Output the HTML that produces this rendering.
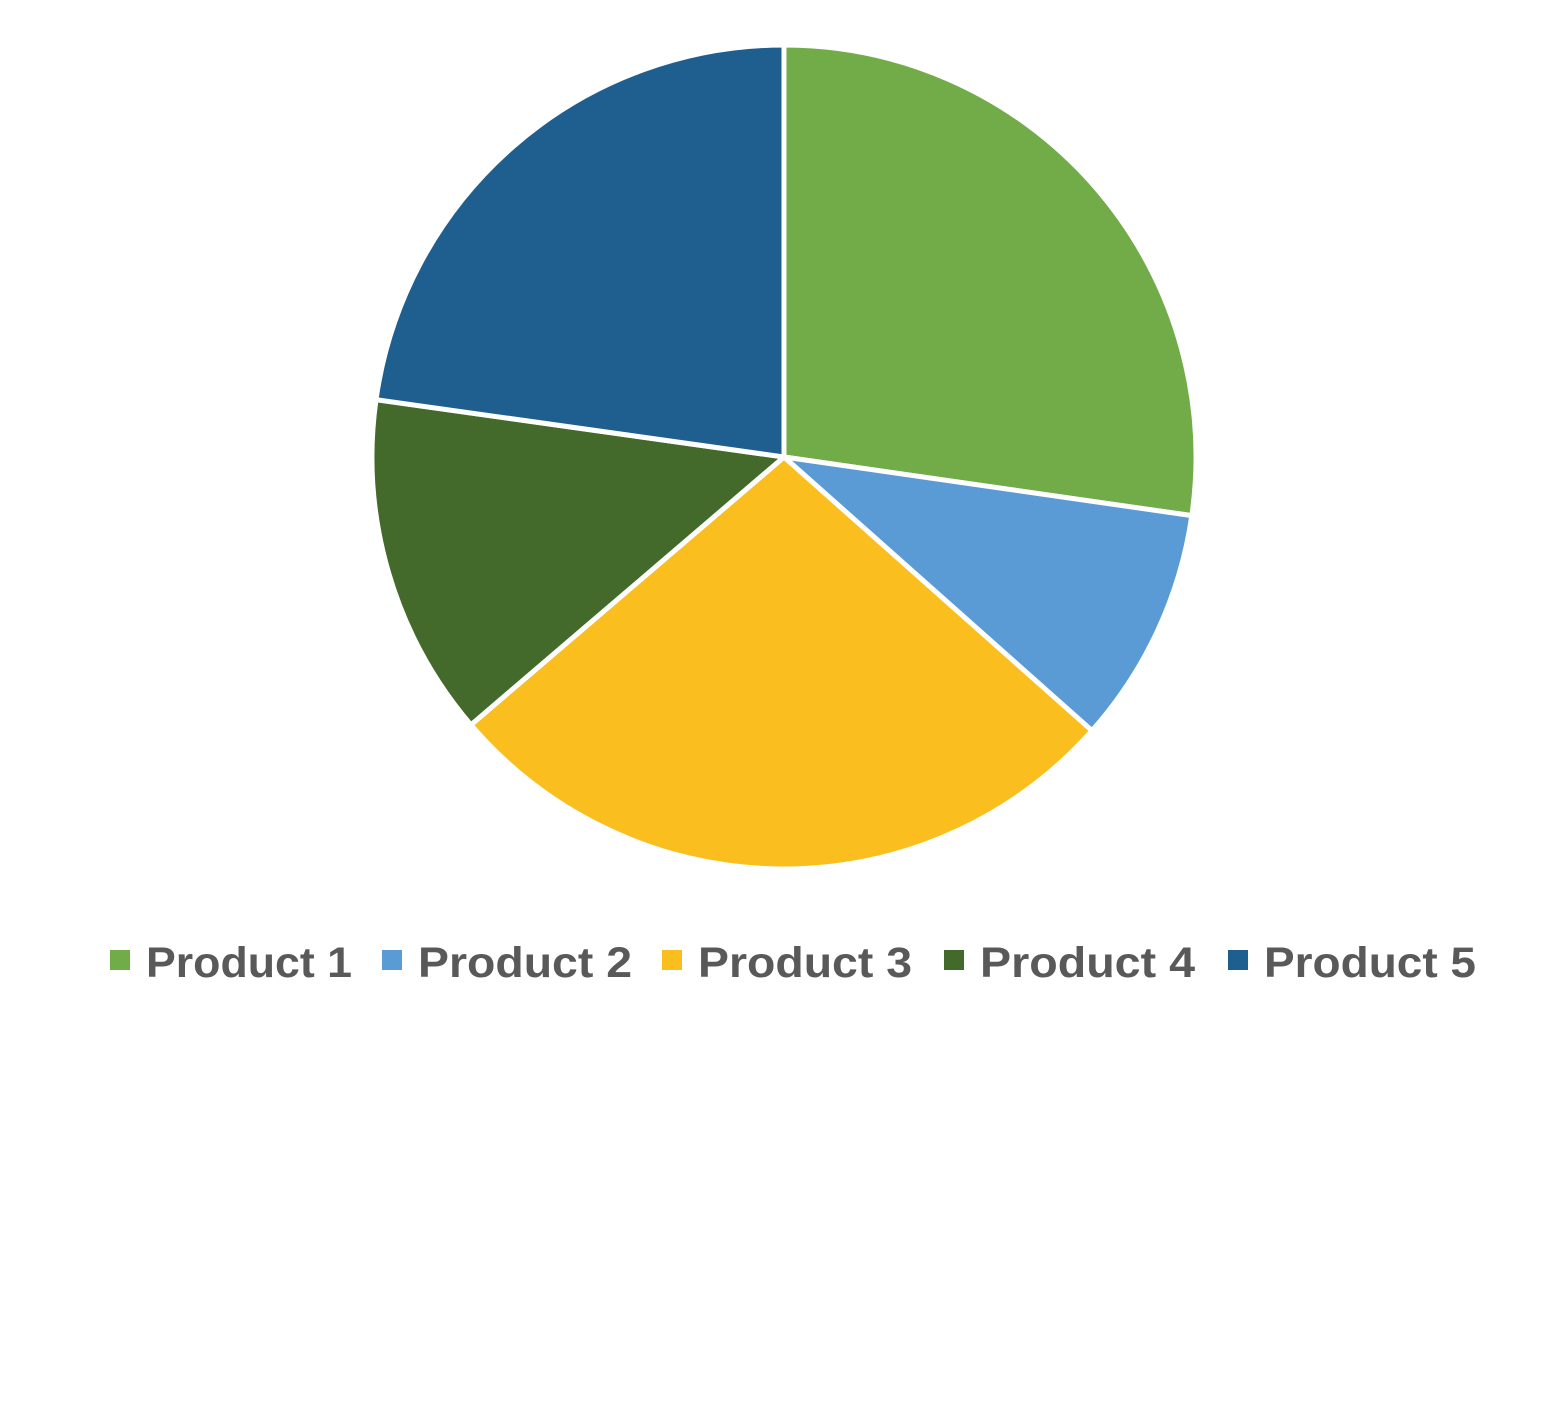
<!DOCTYPE html>
<html><head><meta charset="utf-8"><style>
html,body{margin:0;padding:0;background:#fff;}
svg{display:block;}
</style></head><body>
<svg id="chart" width="1566" height="1428" viewBox="0 0 1566 1428">
<g id="slices"></g>
<g id="legend"></g>
</svg>
<script>
const categories = ["Product 1","Product 2","Product 3","Product 4","Product 5"];
const values = [27.3, 9.3, 27.2, 13.5, 22.8];
const colors = ["#72ac48","#5b9bd5","#fbbe1f","#446a2b","#1f5f8f"];
const cx = 784, cy = 457, r = 412;
const NS = "http://www.w3.org/2000/svg";
const total = values.reduce((a,b)=>a+b,0);
const sg = document.getElementById("slices");
let acc = 0;
function pt(frac){const a = frac*2*Math.PI; return [cx + r*Math.sin(a), cy - r*Math.cos(a)];}
values.forEach((v,i)=>{
  const f0 = acc/total, f1 = (acc+v)/total; acc += v;
  const [x0,y0] = pt(f0), [x1,y1] = pt(f1);
  const large = (f1-f0) > 0.5 ? 1 : 0;
  const p = document.createElementNS(NS,"path");
  p.setAttribute("d",`M${cx},${cy} L${x0},${y0} A${r},${r} 0 ${large} 1 ${x1},${y1} Z`);
  p.setAttribute("fill",colors[i]);
  p.setAttribute("stroke","#fff");
  p.setAttribute("stroke-width","5");
  p.setAttribute("stroke-linejoin","round");
  
  
  sg.appendChild(p);
});
const lg = document.getElementById("legend");
const lx = [110, 382, 662, 944, 1228];
const lw = [206, 214, 214, 215, 212];
categories.forEach((c,i)=>{
  const g = document.createElementNS(NS,"g");
  
  
  const rc = document.createElementNS(NS,"rect");
  rc.setAttribute("x",lx[i]); rc.setAttribute("y",950);
  rc.setAttribute("width",20); rc.setAttribute("height",20);
  rc.setAttribute("fill",colors[i]);
  
  
  const t = document.createElementNS(NS,"text");
  t.setAttribute("x",lx[i]+36); t.setAttribute("y",977);
  t.setAttribute("font-family","'Liberation Sans', sans-serif");
  t.setAttribute("font-size","43");
  t.setAttribute("font-weight","bold");
  t.setAttribute("fill","#595959");
  t.setAttribute("textLength", lw[i]);
  t.setAttribute("lengthAdjust", "spacingAndGlyphs");
  
  
  t.textContent = c;
  g.appendChild(rc); g.appendChild(t); lg.appendChild(g);
});
</script>
</body></html>
